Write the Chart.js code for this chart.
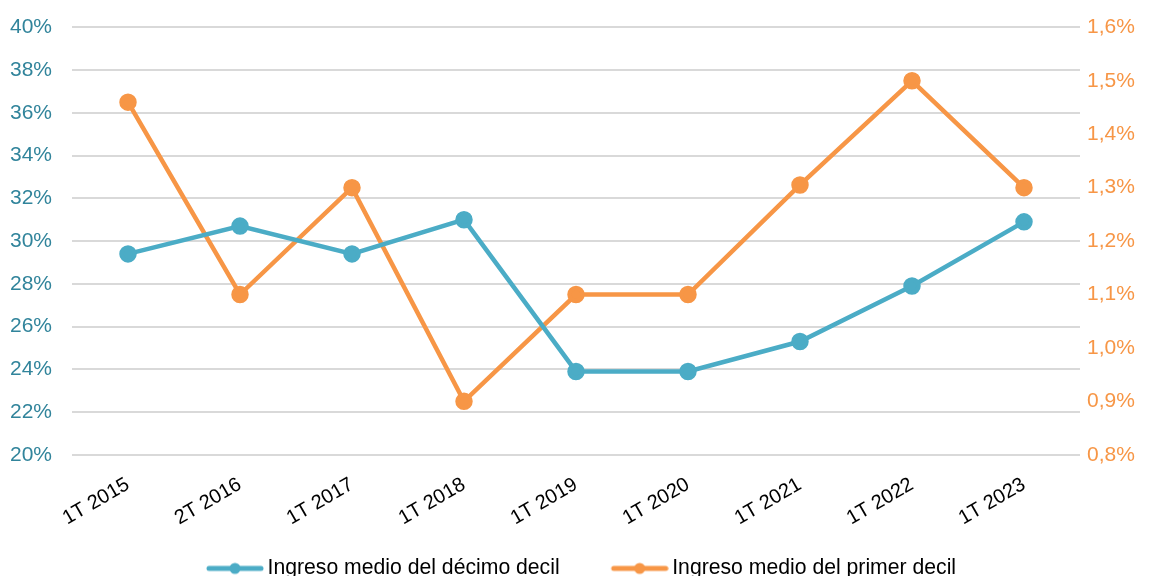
<!DOCTYPE html>
<html>
<head>
<meta charset="utf-8">
<script src="https://cdn.jsdelivr.net/npm/chart.js@4/dist/chart.umd.min.js"></script>
<style>
  html, body { margin: 0; padding: 0; background: #fff; overflow: hidden; }
  #wrap { width: 1149px; height: 594px; }
</style>
</head>
<body>
<div id="wrap"><canvas id="chart"></canvas></div>
<script>
const categories = ["1T 2015", "2T 2016", "1T 2017", "1T 2018", "1T 2019", "1T 2020", "1T 2021", "1T 2022", "1T 2023"];
const decimoDecil = [29.4, 30.7, 29.4, 31.0, 23.9, 23.9, 25.3, 27.9, 30.9];
const primerDecil = [1.46, 1.10, 1.30, 0.90, 1.10, 1.10, 1.305, 1.50, 1.30];

const BLUE = "#4BACC6";
const ORANGE = "#F79646";

// legend marker: short thick line with a dot (left part of the image is blank, for spacing)
function legendMarker(color) {
  const c = document.createElement("canvas");
  c.width = 88; c.height = 14;
  const g = c.getContext("2d");
  g.strokeStyle = color; g.lineWidth = 5; g.lineCap = "round";
  g.beginPath(); g.moveTo(33, 7); g.lineTo(85, 7); g.stroke();
  g.fillStyle = color;
  g.beginPath(); g.arc(59, 7, 5.5, 0, Math.PI * 2); g.fill();
  return c;
}
const markers = [legendMarker(BLUE), legendMarker(ORANGE)];

Chart.defaults.font.family = "'Liberation Sans', Arial, sans-serif";
Chart.defaults.font.size = 21;

const ctx = document.getElementById("chart").getContext("2d");
new Chart(ctx, {
  type: "line",
  data: {
    labels: categories,
    datasets: [{
      label: "Ingreso medio del décimo decil",
      data: decimoDecil,
      yAxisID: "y",
      borderColor: BLUE,
      backgroundColor: BLUE,
      borderWidth: 4.5,
      pointRadius: 6.5,
      pointHoverRadius: 6.5,
      tension: 0
    }, {
      label: "Ingreso medio del primer decil",
      data: primerDecil,
      yAxisID: "y1",
      borderColor: ORANGE,
      backgroundColor: ORANGE,
      borderWidth: 4.5,
      pointRadius: 6.5,
      pointHoverRadius: 6.5,
      tension: 0
    }]
  },
  options: {
    responsive: true,
    maintainAspectRatio: false,
    animation: false,
    layout: { padding: { top: 0, left: 0, right: 10, bottom: 5 } },
    plugins: {
      tooltip: { enabled: false },
      legend: {
        position: "bottom",
        labels: {
          usePointStyle: true,
          pointStyleWidth: 74,
          color: "#000",
          font: { size: 21.2 },
          padding: 28,
          generateLabels: chart => {
            const items = Chart.defaults.plugins.legend.labels.generateLabels(chart);
            items.forEach((it, i) => { it.pointStyle = markers[i]; });
            return items;
          }
        }
      }
    },
    scales: {
      x: {
        offset: true,
        grid: { display: false },
        border: { display: false },
        ticks: { color: "#000", minRotation: 30, maxRotation: 30, padding: 10, font: { size: 20 } },
        afterFit: s => { s.height = 75; }
      },
      y: {
        position: "left",
        min: 20, max: 40,
        ticks: { stepSize: 2, color: "#31849B", padding: 20, font: { size: 21, lineHeight: 0.7 }, callback: v => v + "%" },
        grid: { color: "#D9D9D9", lineWidth: 2, drawTicks: false },
        border: { display: false },
        afterFit: s => { s.width = 72; }
      },
      y1: {
        position: "right",
        min: 0.8, max: 1.6,
        ticks: { stepSize: 0.1, color: ORANGE, padding: 7, callback: v => v.toFixed(1).replace(".", ",") + "%" },
        grid: { display: false, drawTicks: false },
        border: { display: false },
        afterFit: s => { s.width = 59; }
      }
    }
  }
});
</script>
</body>
</html>
